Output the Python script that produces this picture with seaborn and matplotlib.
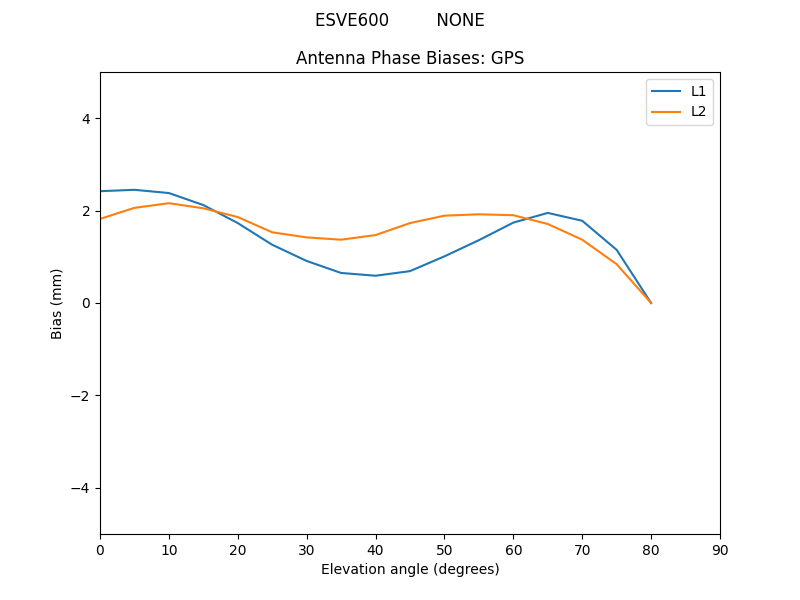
import numpy as np
import pandas as pd
import matplotlib
matplotlib.use("Agg")
import matplotlib.pyplot as plt
import seaborn as sns

# Elevation angles (degrees) and phase biases (mm)
elevation = [0, 5, 10, 15, 20, 25, 30, 35, 40, 45, 50, 55, 60, 65, 70, 75, 80]
bias_l1 = [2.42, 2.45, 2.38, 2.12, 1.73, 1.26, 0.91, 0.65, 0.59, 0.69,
           1.01, 1.36, 1.74, 1.95, 1.78, 1.15, 0.0]
bias_l2 = [1.82, 2.06, 2.16, 2.05, 1.86, 1.53, 1.42, 1.37, 1.47, 1.73,
           1.89, 1.92, 1.90, 1.71, 1.37, 0.84, 0.0]
signals = ["L1", "L2"]

df = pd.DataFrame({
    "elevation": elevation * 2,
    "bias": bias_l1 + bias_l2,
    "signal": [signals[0]] * len(elevation) + [signals[1]] * len(elevation),
})

fig, ax = plt.subplots(figsize=(8, 6), dpi=100)
sns.lineplot(data=df, x="elevation", y="bias", hue="signal",
             palette=["#1f77b4", "#ff7f0e"], ax=ax)

ax.set_xlim(0, 90)
ax.set_ylim(-5, 5)
ax.set_xlabel("Elevation angle (degrees)")
ax.set_ylabel("Bias (mm)")
ax.set_title("Antenna Phase Biases: GPS")
fig.suptitle("ESVE600         NONE")
ax.legend(loc="upper right")

fig.savefig("out.png")
plt.close(fig)
